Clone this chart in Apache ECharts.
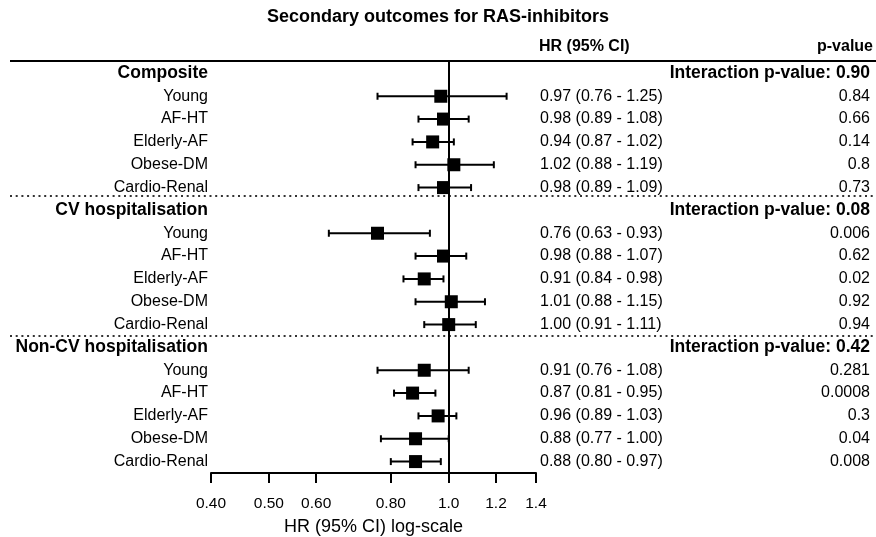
<!DOCTYPE html>
<html>
<head>
<meta charset="utf-8">
<script src="https://cdn.jsdelivr.net/npm/echarts@6/dist/echarts.min.js"></script>
<style>html,body{margin:0;padding:0;background:#fff}#main{width:876px;height:537px}</style>
</head>
<body>
<div id="main"></div>
<script>
// outcome groups and subgroups
var outcomes = ['Composite', 'CV hospitalisation', 'Non-CV hospitalisation'];
var interactionP = ['0.90', '0.08', '0.42'];
var subgroups = ['Young', 'AF-HT', 'Elderly-AF', 'Obese-DM', 'Cardio-Renal'];

var compositeHR = [0.97, 0.98, 0.94, 1.02, 0.98];
var compositeLow = [0.76, 0.89, 0.87, 0.88, 0.89];
var compositeHigh = [1.25, 1.08, 1.02, 1.19, 1.09];
var compositeP = ['0.84', '0.66', '0.14', '0.8', '0.73'];

var cvHR = [0.76, 0.98, 0.91, 1.01, 1.00];
var cvLow = [0.63, 0.88, 0.84, 0.88, 0.91];
var cvHigh = [0.93, 1.07, 0.98, 1.15, 1.11];
var cvP = ['0.006', '0.62', '0.02', '0.92', '0.94'];

var nonCvHR = [0.91, 0.87, 0.96, 0.88, 0.88];
var nonCvLow = [0.76, 0.81, 0.89, 0.77, 0.80];
var nonCvHigh = [1.08, 0.95, 1.03, 1.00, 0.97];
var nonCvP = ['0.281', '0.0008', '0.3', '0.04', '0.008'];

// x axis ticks (log scale)
var tickValues = [0.4, 0.5, 0.6, 0.8, 1.0, 1.2, 1.4];
var tickLabels = ['0.40', '0.50', '0.60', '0.80', '1.0', '1.2', '1.4'];

var FONT = '"Liberation Sans", Arial, sans-serif';

// build rows (header + 5 subgroups per outcome)
var groupData = [
    [compositeHR, compositeLow, compositeHigh, compositeP],
    [cvHR, cvLow, cvHigh, cvP],
    [nonCvHR, nonCvLow, nonCvHigh, nonCvP]
];
var leftLabels = [], hrLabels = [], pLabels = [], points = [], whiskers = [];
var row = 0;
outcomes.forEach(function (name, g) {
    leftLabels.push('{b|' + name + '}');
    hrLabels.push('');
    pLabels.push('{b|Interaction p-value: ' + interactionP[g] + '}');
    row++;
    var d = groupData[g];
    subgroups.forEach(function (s, i) {
        leftLabels.push(s);
        hrLabels.push(d[0][i].toFixed(2) + ' (' + d[1][i].toFixed(2) + ' - ' + d[2][i].toFixed(2) + ')');
        pLabels.push(d[3][i]);
        points.push([Math.log(d[0][i]), row]);
        whiskers.push([Math.log(d[1][i]), Math.log(d[2][i]), row]);
        row++;
    });
});
var rowIds = leftLabels.map(function (v, i) { return String(i); });

var chartDom = document.getElementById('main');
var myChart = echarts.init(chartDom);

var boldRich = { b: { fontWeight: 'bold', fontSize: 17.5, color: '#000', fontFamily: FONT } };

function yAxisBase(labels, extra) {
    var ax = {
        type: 'category',
        inverse: true,
        data: rowIds,
        axisLine: { show: false },
        axisTick: { show: false },
        splitLine: { show: false },
        axisLabel: {
            interval: 0,
            color: '#000',
            fontSize: 16,
            fontFamily: FONT,
            rich: boldRich,
            formatter: function (v, i) { return labels[i]; }
        }
    };
    for (var k in extra) {
        if (k === 'axisLabel') Object.assign(ax.axisLabel, extra[k]);
        else ax[k] = extra[k];
    }
    return ax;
}

var option = {
    animation: false,
    backgroundColor: '#fff',
    title: [
        { text: 'Secondary outcomes for RAS-inhibitors', left: 'center', top: 8, padding: 0,
          textStyle: { fontSize: 18, fontWeight: 'bold', color: '#000', fontFamily: FONT } },
        { text: 'HR (95% CI)', left: 539, top: 39, padding: 0,
          textStyle: { fontSize: 16, fontWeight: 'bold', color: '#000', fontFamily: FONT } },
        { text: 'p-value', right: 3, top: 39, padding: 0,
          textStyle: { fontSize: 16, fontWeight: 'bold', color: '#000', fontFamily: FONT } }
    ],
    grid: { left: 211, right: 340, top: 62, height: 411, outerBoundsMode: 'none' },
    xAxis: {
        type: 'value',
        min: Math.log(0.4),
        max: Math.log(1.4),
        splitLine: { show: false },
        axisLine: { show: true, onZero: false, lineStyle: { color: '#000', width: 2 } },
        axisTick: { show: true, length: 10, lineStyle: { color: '#000', width: 2 },
                    customValues: tickValues.map(Math.log) },
        axisLabel: {
            customValues: tickValues.map(Math.log),
            margin: 23, fontSize: 15.5, color: '#000', fontFamily: FONT,
            formatter: function (v) {
                for (var i = 0; i < tickValues.length; i++) {
                    if (Math.abs(Math.log(tickValues[i]) - v) < 1e-6) return tickLabels[i];
                }
                return '';
            }
        },
        name: 'HR (95% CI) log-scale',
        nameLocation: 'middle',
        nameGap: 45,
        nameTextStyle: { fontSize: 18, color: '#000', fontFamily: FONT }
    },
    yAxis: [
        yAxisBase(leftLabels, { position: 'left', axisLabel: { margin: 3 } }),
        yAxisBase(hrLabels, { position: 'right', axisLabel: { margin: 4 } }),
        yAxisBase(pLabels, { position: 'right', axisLabel: { margin: 334, align: 'right' } })
    ],
    graphic: [
        { type: 'line', shape: { x1: 10, y1: 61, x2: 876, y2: 61 }, style: { stroke: '#000', lineWidth: 2 } },
        { type: 'line', shape: { x1: 10, y1: 196, x2: 876, y2: 196 }, style: { stroke: '#333', lineWidth: 2, lineDash: [2, 3.7] } },
        { type: 'line', shape: { x1: 10, y1: 336, x2: 876, y2: 336 }, style: { stroke: '#333', lineWidth: 2, lineDash: [2, 3.7] } }
    ],
    series: [
        {
            type: 'custom',
            data: whiskers,
            encode: { x: [0, 1], y: 2 },
            renderItem: function (params, api) {
                var y = api.value(2);
                var a = api.coord([api.value(0), y]);
                var b = api.coord([api.value(1), y]);
                var c = 3.5;
                var st = { stroke: '#000', lineWidth: 2 };
                return {
                    type: 'group',
                    children: [
                        { type: 'line', shape: { x1: a[0], y1: a[1], x2: b[0], y2: b[1] }, style: st },
                        { type: 'line', shape: { x1: a[0], y1: a[1] - c, x2: a[0], y2: a[1] + c }, style: st },
                        { type: 'line', shape: { x1: b[0], y1: b[1] - c, x2: b[0], y2: b[1] + c }, style: st }
                    ]
                };
            }
        },
        {
            type: 'scatter',
            data: points,
            symbol: 'rect',
            symbolSize: 13,
            itemStyle: { color: '#000', opacity: 1 },
            z: 3,
            markLine: {
                silent: true,
                symbol: 'none',
                label: { show: false },
                lineStyle: { color: '#000', width: 2, type: 'solid' },
                data: [{ xAxis: 0 }]
            }
        }
    ]
};

option && myChart.setOption(option);
</script>
</body>
</html>
